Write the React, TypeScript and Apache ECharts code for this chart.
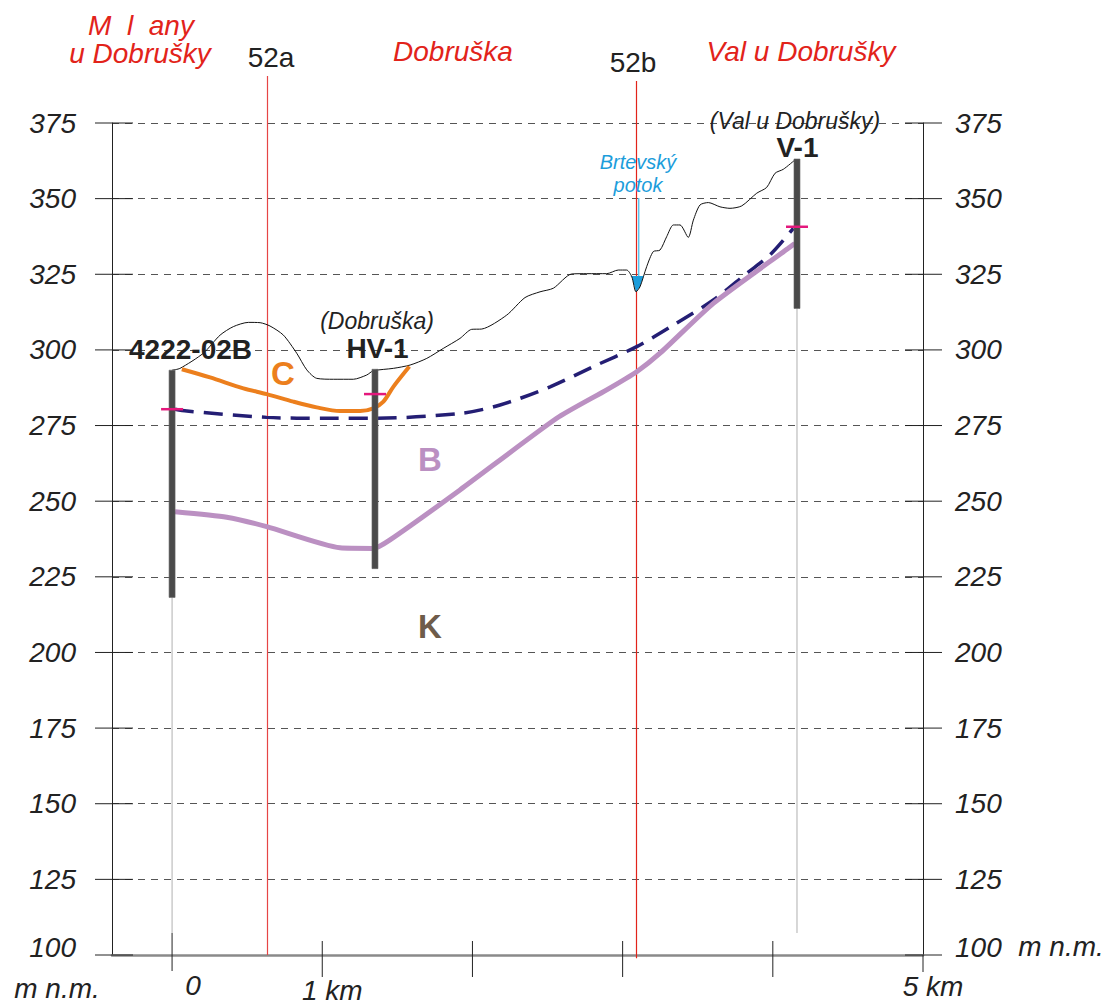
import React, { useEffect, useRef } from 'react';
import * as echarts from 'echarts';

// ---- axes ----
const X_MIN = -0.4;
const X_MAX = 5;
const Y_MIN = 100;
const Y_MAX = 375;
const Y_STEP = 25;
const yTicks = [100, 125, 150, 175, 200, 225, 250, 275, 300, 325, 350, 375];
const xTicks = [0, 1, 2, 3, 4, 5];
const xTickLabels = ['0', '1 km', '', '', '', '5 km'];

// ---- profile lines [km, m n.m.] ----
const terrain = [
  [0, 293.3], [0.053, 293.9], [0.208, 298.9], [0.32, 304.9], [0.408, 307.7], [0.508, 309.1],
  [0.586, 309.0], [0.652, 307.9], [0.741, 304.9], [0.83, 298.9], [0.897, 293.4], [0.963, 290.6],
  [1.074, 290.3], [1.207, 290.3], [1.296, 291.7], [1.34, 293.1], [1.473, 293.9], [1.585, 295.0],
  [1.696, 297.2], [1.806, 300.5], [1.917, 303.8], [1.995, 306.8], [2.062, 306.9], [2.228, 311.5],
  [2.35, 317.3], [2.45, 319.2], [2.539, 320.4], [2.661, 325.1], [2.761, 325.2], [2.894, 325.2],
  [2.971, 326.4], [3.027, 326.4], [3.061, 324.2], [3.089, 319.2], [3.116, 320.9], [3.16, 327.5],
  [3.204, 332.5], [3.249, 333.0], [3.293, 337.4], [3.338, 341.3], [3.382, 341.3], [3.437, 337.2],
  [3.471, 342.9], [3.515, 347.9], [3.571, 348.7], [3.648, 347.3], [3.715, 346.8], [3.793, 347.6],
  [3.893, 351.8], [3.959, 353.7], [4.015, 358.4], [4.07, 359.7], [4.15, 362.9],
];
const lineC = [
  [0.065, 293.6], [0.253, 290.9], [0.475, 287.3], [0.63, 285.4], [0.808, 282.9], [0.963, 281.0],
  [1.118, 279.8], [1.252, 279.8], [1.34, 280.7], [1.407, 282.9], [1.473, 287.8], [1.58, 294.5],
];
const lineDashed = [
  [0.02, 280.4], [0.098, 279.8], [0.63, 277.7], [1.03, 277.4], [1.34, 277.4], [1.917, 279.0],
  [2.184, 281.8], [2.517, 287.8], [2.805, 294.5], [3.094, 301.1], [3.338, 308.2], [3.604, 316.5],
  [3.826, 325.3], [3.981, 331.4], [4.137, 340.2],
];
const lineB = [
  [0.02, 246.5], [0.364, 244.7], [0.63, 241.6], [1.118, 234.6], [1.34, 234.4], [1.451, 237.2],
  [1.917, 253.7], [2.561, 277.4], [2.894, 286.8], [3.094, 292.8], [3.249, 298.9], [3.604, 315.4],
  [4.103, 333.6], [4.146, 335.2],
];
const water = [[3.05, 324.4], [3.061, 324.2], [3.089, 319.2], [3.116, 320.9], [3.139, 324.4]];

// ---- wells ----
const wellNames = ['4222-02B', 'HV-1', 'V-1'];
const wellKm = [0, 1.351, 4.161];
const wellTop = [293.3, 293.6, 363.1];
const wellBottom = [218.2, 227.7, 313.7];
const wellMarker = [280.4, 285.4, 340.7];
const stemWells = ['4222-02B', 'V-1'];

// ---- section lines ----
const sectionKm = [0.635, 3.087];
const sectionTop = [390.5, 388.9];
const sectionBottom = [100, 98.9];

// ---- creek ----
const creekKm = 3.107;
const creekTop = 350.2;
const creekBottom = 324.4;

const FONT = '"Liberation Sans", Arial, sans-serif';
const RED = '#e2231a';

function txt(text: string, x: number, y: number, font: string, fill: string, align = 'center') {
  return {
    type: 'text',
    x,
    y,
    z: 100,
    silent: true,
    style: {
      text,
      font,
      fill,
      align,
      textAlign: align,
      verticalAlign: 'middle',
      textVerticalAlign: 'middle',
    },
  };
}

const labelStyle = (margin: number) => ({
  margin,
  fontStyle: 'italic',
  fontSize: 28,
  fontFamily: FONT,
  color: '#222',
  formatter: (v: number) => (v === 100 ? '{low|' + v + '}' : String(v)),
  rich: {
    low: { fontStyle: 'italic', fontSize: 28, fontFamily: FONT, color: '#222', padding: [0, 0, 16, 0] },
  },
});

const option: any = {
  animation: false,
  backgroundColor: '#ffffff',
  grid: { left: 112, right: 189, top: 123, bottom: 49 },
  xAxis: {
    type: 'value',
    min: X_MIN,
    max: X_MAX,
    axisLine: { show: true, onZero: false, lineStyle: { color: '#8a8a8a', width: 2.5 } },
    axisTick: { show: false },
    axisLabel: { show: false },
    splitLine: { show: false },
  },
  yAxis: [
    {
      type: 'value',
      min: Y_MIN,
      max: Y_MAX,
      interval: Y_STEP,
      position: 'left',
      axisLine: { show: true, onZero: false, lineStyle: { color: '#222', width: 1 } },
      axisTick: { show: false },
      axisLabel: labelStyle(36),
      splitLine: { show: true, lineStyle: { type: [7, 6], color: '#555', width: 1 } },
    },
    {
      type: 'value',
      min: Y_MIN,
      max: Y_MAX,
      interval: Y_STEP,
      position: 'right',
      axisLine: { show: true, onZero: false, lineStyle: { color: '#222', width: 1 } },
      axisTick: { show: false },
      axisLabel: labelStyle(32),
      splitLine: { show: false },
    },
  ],
  series: [
    // section lines 52a / 52b
    {
      type: 'custom',
      silent: true,
      z: 3,
      data: sectionKm.map((k, i) => [k, sectionTop[i], sectionBottom[i]]),
      renderItem: (params: any, api: any) => {
        const t = api.coord([api.value(0), api.value(1)]);
        const b = api.coord([api.value(0), api.value(2)]);
        const x = Math.round(t[0]) + 0.5;
        return {
          type: 'line',
          shape: { x1: x, y1: t[1], x2: x, y2: b[1] },
          style: { stroke: params.dataIndex === 0 ? '#e64545' : '#e2231a', lineWidth: 1.2 },
        };
      },
    },
    // y ticks on both sides
    {
      type: 'custom',
      silent: true,
      z: 6,
      data: yTicks.map((v) => [X_MIN, v]),
      renderItem: (params: any, api: any) => {
        const v = api.value(1);
        const l = api.coord([X_MIN, v]);
        const r = api.coord([X_MAX, v]);
        return {
          type: 'group',
          children: [
            { type: 'line', shape: { x1: l[0] - 17, y1: l[1], x2: l[0] + 21, y2: l[1] }, style: { stroke: '#222', lineWidth: 1 } },
            { type: 'line', shape: { x1: r[0] - 18, y1: r[1], x2: r[0] + 19, y2: r[1] }, style: { stroke: '#222', lineWidth: 1 } },
          ],
        };
      },
    },
    // x ticks
    {
      type: 'custom',
      silent: true,
      z: 6,
      data: xTicks.map((v) => [v, Y_MIN]),
      renderItem: (params: any, api: any) => {
        const v = api.value(0);
        const p = api.coord([v, Y_MIN]);
        const up = v === 0 ? 22 : v === 5 ? 0 : 14;
        const down = v === 0 ? 16 : v === 5 ? 17 : 22;
        return {
          type: 'line',
          shape: { x1: p[0], y1: p[1] - up, x2: p[0], y2: p[1] + down },
          style: { stroke: '#222', lineWidth: 1 },
        };
      },
    },
    // x tick labels
    {
      type: 'custom',
      silent: true,
      z: 6,
      data: xTicks.map((v, i) => [v, Y_MIN, i]),
      renderItem: (params: any, api: any) => {
        const v = api.value(0);
        const i = api.value(2);
        const p = api.coord([v, Y_MIN]);
        const dx = v === 0 ? 21 : 10;
        const dy = v === 1 ? 35 : v === 0 ? 30 : 31;
        return {
          type: 'text',
          x: p[0] + dx,
          y: p[1] + dy,
          style: {
            text: xTickLabels[i],
            font: 'italic 28px ' + FONT,
            fill: '#222',
            align: 'center',
            textAlign: 'center',
            verticalAlign: 'middle',
            textVerticalAlign: 'middle',
          },
        };
      },
    },
    // creek water
    {
      type: 'custom',
      silent: true,
      z: 4,
      data: [[creekKm, creekTop, creekBottom]],
      renderItem: (params: any, api: any) => {
        const pts = water.map((p) => api.coord(p));
        const t = api.coord([api.value(0), api.value(1)]);
        const b = api.coord([api.value(0), api.value(2)]);
        return {
          type: 'group',
          children: [
            { type: 'polygon', shape: { points: pts }, style: { fill: '#1c9ddb' } },
            { type: 'line', shape: { x1: t[0], y1: t[1], x2: b[0], y2: b[1] }, style: { stroke: '#5ec4ee', lineWidth: 1.5 } },
          ],
        };
      },
    },
    {
      type: 'line',
      name: 'terrain',
      data: terrain,
      symbol: 'none',
      smooth: 0.25,
      silent: true,
      z: 5,
      lineStyle: { color: '#111', width: 1 },
    },
    {
      type: 'line',
      name: 'C',
      data: lineC,
      symbol: 'none',
      smooth: 0.3,
      silent: true,
      z: 5,
      lineStyle: { color: '#ec7f1d', width: 4, cap: 'butt' },
    },
    {
      type: 'line',
      name: 'base',
      data: lineDashed,
      symbol: 'none',
      smooth: 0.3,
      silent: true,
      z: 5,
      lineStyle: { color: '#241e74', width: 3.5, type: [19, 10], cap: 'butt' },
    },
    {
      type: 'line',
      name: 'B',
      data: lineB,
      symbol: 'none',
      smooth: 0.2,
      silent: true,
      z: 5,
      lineStyle: { color: '#bb90c2', width: 5, cap: 'butt' },
    },
    // wells
    {
      type: 'custom',
      silent: true,
      z: 7,
      data: wellKm.map((k, i) => [k, wellTop[i], wellBottom[i], wellMarker[i]]),
      renderItem: (params: any, api: any) => {
        const i = params.dataIndex;
        const t = api.coord([api.value(0), api.value(1)]);
        const b = api.coord([api.value(0), api.value(2)]);
        const m = api.coord([api.value(0), api.value(3)]);
        const base = api.coord([api.value(0), Y_MIN]);
        const children: any[] = [];
        if (stemWells.indexOf(wellNames[i]) >= 0) {
          children.push({ type: 'line', shape: { x1: b[0], y1: b[1], x2: b[0], y2: base[1] - 22 }, style: { stroke: '#b0b0b0', lineWidth: 1 } });
        }
        children.push({
          type: 'rect',
          shape: { x: t[0] - 3, y: t[1], width: 6, height: b[1] - t[1] },
          style: { fill: '#4a4a4a', stroke: '#666', lineWidth: 0.6 },
        });
        children.push({
          type: 'line',
          shape: { x1: m[0] - 11, y1: m[1], x2: m[0] + 11, y2: m[1] },
          style: { stroke: '#e4187c', lineWidth: 2.5 },
        });
        return { type: 'group', children };
      },
    },
  ],
  graphic: [
    txt('M  l  any', 141, 25, 'italic 28px ' + FONT, RED),
    txt('u Dobrušky', 140, 53, 'italic 28px ' + FONT, RED),
    txt('52a', 271, 57.5, '28px ' + FONT, '#222'),
    txt('Dobruška', 453, 51, 'italic 28px ' + FONT, RED),
    txt('52b', 633, 62, '28px ' + FONT, '#222'),
    txt('Val u Dobrušky', 801, 51.5, 'italic 28px ' + FONT, RED),
    txt('(Val u Dobrušky)', 795, 121, 'italic 23px ' + FONT, '#222'),
    txt('V-1', 797.5, 147.5, 'bold 28px ' + FONT, '#222'),
    txt('Brtevský', 638, 162, 'italic 20px ' + FONT, '#1c9ddb'),
    txt('potok', 638, 185, 'italic 20px ' + FONT, '#1c9ddb'),
    txt('(Dobruška)', 377, 321, 'italic 23px ' + FONT, '#222'),
    txt('HV-1', 377.5, 348, 'bold 28px ' + FONT, '#222'),
    txt('4222-02B', 190.5, 349.7, 'bold 28px ' + FONT, '#222'),
    txt('C', 283, 373, 'bold 33px ' + FONT, '#ec7f1d'),
    txt('B', 430, 459, 'bold 33px ' + FONT, '#bb90c2'),
    txt('K', 430, 626, 'bold 33px ' + FONT, '#6e5c4a'),
    txt('m n.m.', 57, 988, 'italic 28px ' + FONT, '#222'),
    txt('m n.m.', 1061, 946, 'italic 28px ' + FONT, '#222'),
  ],
};

export default function App() {
  const ref = useRef<HTMLDivElement>(null);
  useEffect(() => {
    const chart = echarts.init(ref.current as HTMLDivElement, null, { renderer: 'svg' });
    chart.setOption(option);
    return () => chart.dispose();
  }, []);
  return (
    <div
      ref={ref}
      style={{ position: 'absolute', left: 0, top: 0, width: 1112, height: 1004, background: '#fff' }}
    />
  );
}
